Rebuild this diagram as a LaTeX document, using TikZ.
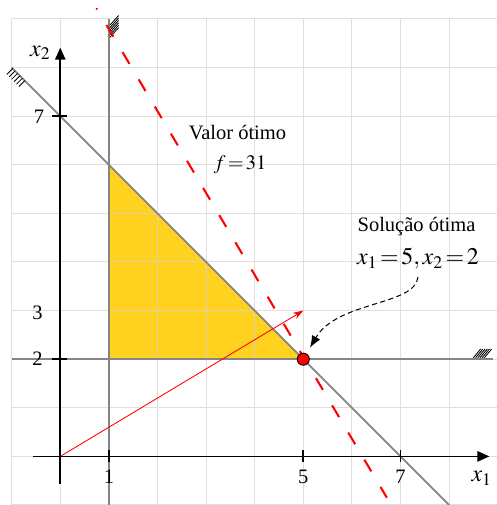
\documentclass[tikz,border=0pt]{standalone}
\usepackage{mathptmx}
\usepackage{fontspec}
\setmainfont{Liberation Serif}
\usetikzlibrary{arrows.meta}
\definecolor{feasgold}{HTML}{FFD21F}
\definecolor{gridgray}{HTML}{D4D4D4}
\definecolor{linegray}{HTML}{858585}

\begin{document}
\begin{tikzpicture}[
  font=\fontsize{12}{14}\selectfont,
  ax/.style={-{Triangle[length=7pt,width=6pt]},line width=1pt},
  cons/.style={draw=linegray,line width=1.1pt},
  hatch/.style={line width=0.5pt},
  tickmark/.style={line width=1pt},
  objline/.style={red,line width=1.2pt,dash pattern=on 0.28cm off 0.37cm,dash phase=0.25cm},
  grad/.style={red,line width=0.5pt,-{Stealth[length=6pt,width=4pt]}},
  callout/.style={densely dashed,line width=0.6pt,-{Latex[length=7pt,width=5.5pt]},shorten >=4pt},
  lbl/.style={anchor=base,inner sep=0pt},
  axlbl/.style={lbl,font=\fontsize{14}{16}\selectfont}
]
\useasboundingbox (-1.24,-1.0) rectangle (8.97,9.39);
\coordinate (O) at (0,0);
\coordinate (G) at (5,3);
\fill[feasgold] (1,2) -- (5,2) -- (1,6) -- cycle;
\draw[gridgray,line width=0.6pt,draw opacity=0.75] (-1,-1) grid (9,9);

\draw[cons] (1,-1) -- (1,9);
\draw[cons] (-1,2) -- (8.9,2);
\draw[cons] (-1,8) -- (8,-1);
\foreach \t in {0,...,5}
  \draw[hatch] (1.02,8.62+0.05*\t) -- ++(0.18,0.2);
\foreach \t in {0,...,5}
  \draw[hatch] (8.5+0.045*\t,2.03) -- ++(0.15,0.18);
\foreach \t in {0,...,5}
  \draw[hatch] (-0.98+0.05*\t,7.98-0.05*\t) -- ++(-0.12,-0.12);

\draw[objline] (0.745,9.22) -- (6.72,-0.85);
\draw[grad] (O) -- (G);

\draw[ax] (-0.56,0) -- (8.83,0);
\draw[ax] (0,-0.57) -- (0,8.41);
\foreach \x in {1,5,7}
  \draw[tickmark] (\x,-0.12) -- (\x,0.13);
\foreach \y in {2,7}
  \draw[tickmark] (-0.17,\y) -- (0.13,\y);

\node[lbl] (t1) at (1,-0.565) {1};
\node[lbl] (t5) at (5,-0.565) {5};
\node[lbl] (t7) at (7,-0.565) {7};
\node[axlbl] (xl) at (8.67,-0.52) {$x_1$};
\node[lbl] (s7) at (-0.44,6.85) {7};
\node[lbl] (s3) at (-0.47,2.82) {3};
\node[lbl] (s2) at (-0.47,1.86) {2};
\node[axlbl] (yl) at (-0.41,8.23) {$x_2$};

\node[lbl] (valt) at (3.645,6.53) {Valor ótimo};
\node[lbl] (valv) at (3.70,5.90) {$f\!=\!31$};
\node[lbl] (solt) at (7.33,4.63) {Solução ótima};
\node[lbl,font=\fontsize{14}{16}\selectfont] (solv) at (7.36,3.95) {$x_1\!=\!5, x_2\!=\!2$};

\node[circle,fill=red,draw=black,line width=0.5pt,minimum size=0.25cm,inner sep=0pt] (pt) at (5,2) {};
\draw[callout] (7.36,3.69) .. controls (7.3,3.1) and (5.7,3.2) .. (pt);
\end{tikzpicture}
\end{document}
